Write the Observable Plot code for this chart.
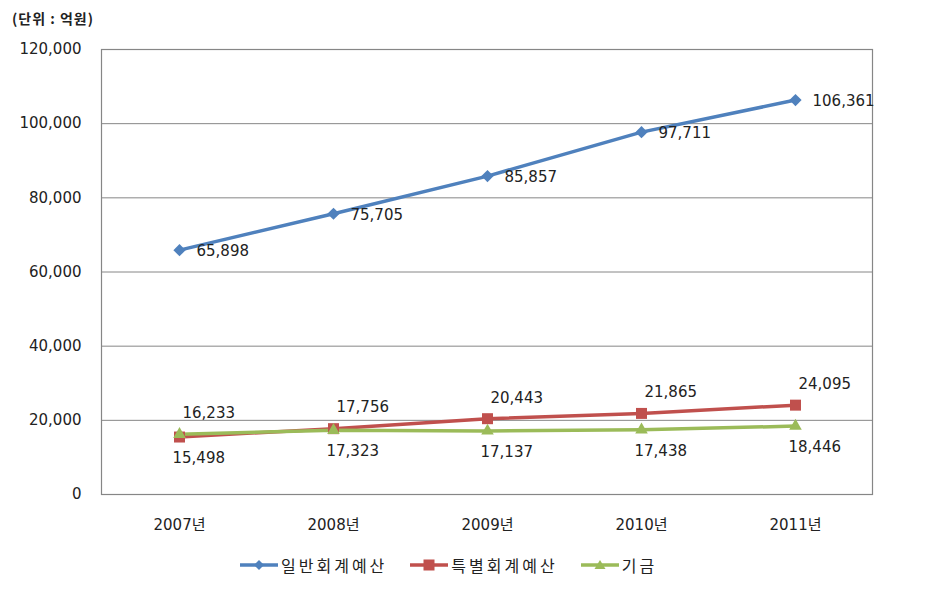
<!DOCTYPE html>
<html>
<head>
<meta charset="utf-8">
<script src="https://cdn.jsdelivr.net/npm/d3@7"></script>
<script src="https://cdn.jsdelivr.net/npm/@observablehq/plot@0.6"></script>
<style>
  body { margin: 0; background: #fff; font-family: "DejaVu Sans", "Noto Sans CJK KR", sans-serif; }
  #wrap { position: relative; width: 926px; height: 607px; }
  #unit { position: absolute; left: 12px; top: 8px; font-size: 14px; letter-spacing: 1px; font-weight: bold; color: #222; font-family: "Noto Sans CJK KR", sans-serif; }
  #chart { position: absolute; left: 0; top: 0; }
  #legend { position: absolute; top: 553px; left: 240px; display: flex; gap: 23px; font-size: 16px; letter-spacing: 3px; color: #222; font-family: "Noto Sans CJK KR", sans-serif; }
  .item { display: flex; align-items: center; gap: 3px; }
</style>
</head>
<body>
<div id="wrap">
  <div id="chart"></div>
  <div id="unit">(단위 : 억원)</div>
  <div id="legend"></div>
</div>
<script>
const years = ["2007년", "2008년", "2009년", "2010년", "2011년"];
const seriesNames = ["일반회계예산", "특별회계예산", "기금"];
const general = [65898, 75705, 85857, 97711, 106361];
const special = [15498, 17756, 20443, 21865, 24095];
const fund = [16233, 17323, 17137, 17438, 18446];
const yTicks = [0, 20000, 40000, 60000, 80000, 100000, 120000];

const colors = ["#4F81BD", "#C0504D", "#9BBB59"];
const symbols = ["diamond2", "square", "triangle2"];
const fmt = d3.format(",");

const seriesVals = [general, special, fund];
const rows = [];
seriesNames.forEach((s, i) => {
  years.forEach((y, j) => rows.push({series: s, year: y, value: seriesVals[i][j], idx: i, j}));
});
// label placement: blue to the right; red/green: higher one above, lower one below
rows.forEach(r => {
  if (r.idx === 0) r.pos = "right";
  else {
    const other = r.idx === 1 ? fund[r.j] : special[r.j];
    r.pos = r.value >= other ? "above" : "below";
  }
});

const chart = Plot.plot({
  width: 926,
  height: 560,
  marginTop: 49,
  marginLeft: 101,
  marginRight: 54,
  marginBottom: 66,
  style: {fontFamily: "'DejaVu Sans', 'Noto Sans CJK KR', sans-serif", fontSize: "15px", color: "#222"},
  x: {type: "point", domain: years, padding: 0.5, label: null},
  y: {domain: [0, 120000], ticks: yTicks, label: null},
  color: {domain: seriesNames, range: colors},
  symbol: {domain: seriesNames, range: symbols},
  marks: [
    Plot.gridY(yTicks, {stroke: "#868686", strokeOpacity: 1, strokeWidth: 1}),
    Plot.frame({stroke: "#868686", strokeWidth: 1.2}),
    Plot.axisY(yTicks, {tickSize: 0, tickPadding: 20, tickFormat: fmt, fontSize: 15, fill: "#222"}),
    Plot.axisX({tickSize: 0, tickPadding: 25, fontSize: 15, fill: "#222"}),
    Plot.line(rows, {x: "year", y: "value", z: "series", stroke: "series", strokeWidth: 3.5}),
    Plot.dot(rows.filter(r => r.idx === 0), {x: "year", y: "value", symbol: "series", fill: "series", r: 5.5}),
    Plot.dot(rows.filter(r => r.idx === 1), {x: "year", y: "value", symbol: "series", fill: "series", r: 6.2}),
    Plot.dot(rows.filter(r => r.idx === 2), {x: "year", y: "value", symbol: "series", fill: "series", r: 6}),
    Plot.text(rows.filter(r => r.pos === "right"), {x: "year", y: "value", text: d => fmt(d.value), textAnchor: "start", dx: 17, dy: 1, fontSize: 15, fill: "#222"}),
    Plot.text(rows.filter(r => r.pos === "above"), {x: "year", y: "value", text: d => fmt(d.value), textAnchor: "start", dx: 3, dy: -21, fontSize: 15, fill: "#222"}),
    Plot.text(rows.filter(r => r.pos === "below"), {x: "year", y: "value", text: d => fmt(d.value), textAnchor: "start", dx: -7, dy: 21, fontSize: 15, fill: "#222"})
  ]
});
document.getElementById("chart").appendChild(chart);

// legend
const leg = document.getElementById("legend");
const shapes = [
  '<path d="M19,2 L24,7 L19,12 L14,7 Z" fill="C"/>',
  '<rect x="13.5" y="1.5" width="11" height="11" fill="C"/>',
  '<path d="M19,2 L24.5,11 L13.5,11 Z" fill="C"/>'
];
seriesNames.forEach((s, i) => {
  const it = document.createElement("div");
  it.className = "item";
  it.innerHTML = `<svg width="38" height="14"><line x1="0" y1="7" x2="38" y2="7" stroke="${colors[i]}" stroke-width="3.5"/>${shapes[i].replace("C", colors[i])}</svg><span>${s}</span>`;
  leg.appendChild(it);
});
</script>
</body>
</html>
